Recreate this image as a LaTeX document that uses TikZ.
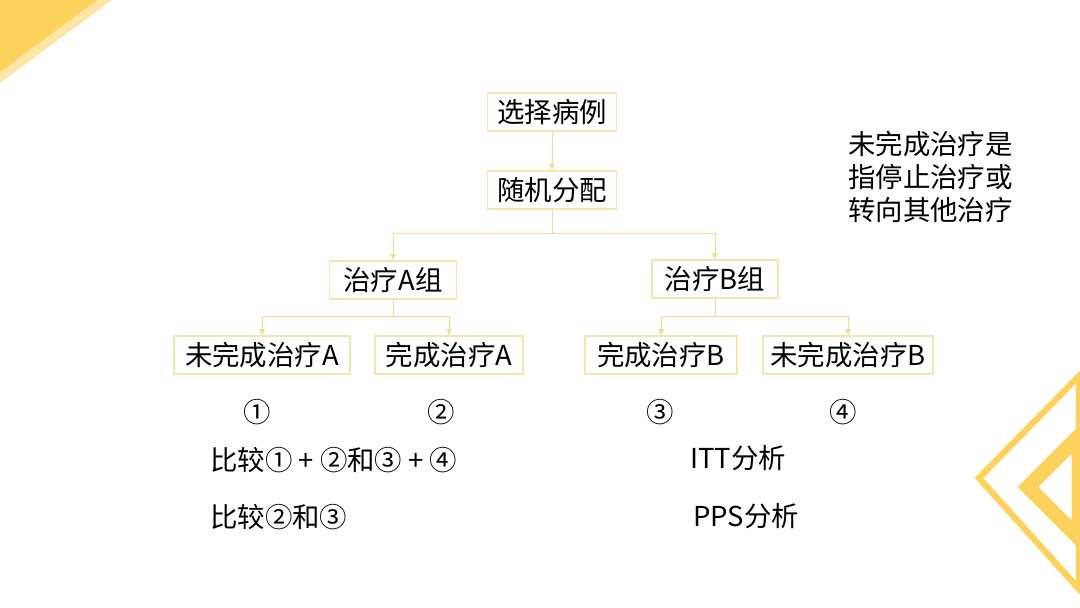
\documentclass[tikz,border=0pt]{standalone}
\usepackage{fontspec}
\setmainfont{Noto Sans CJK SC}
\usetikzlibrary{positioning,arrows.meta}
\definecolor{cornery}{HTML}{FDD25C}
\definecolor{cornerl}{HTML}{FCE6A6}
\definecolor{boxline}{HTML}{F6E4B0}
\definecolor{linkc}{HTML}{F3D98E}

\begin{document}
\begin{tikzpicture}[
  x=0.025cm, y=-0.025cm,
  font=\fontsize{19.5}{23.5}\selectfont,
  bx/.style={draw=boxline, line width=0.8pt, minimum height=0.95cm,
             inner sep=0pt, align=center},
  fl/.style={-{Latex[length=1.6mm,width=1.5mm]}, linkc, line width=0.6pt},
  ln/.style={linkc, line width=0.6pt},
  tx/.style={inner sep=0pt, anchor=west}
]
\useasboundingbox (0,0) rectangle (1080,607);
\fill[white] (0,0) rectangle (1080,607);

% corner decorations
\begin{scope}
\clip (0,0) rectangle (1080,607);
\fill[cornerl] (0,0) -- (112,0) -- (0,83) -- cycle;
\fill[cornery] (0,0) -- (97,0) -- (0,72) -- cycle;
\draw[cornery, line width=4.5pt, line join=miter] (1079,376) -- (979,478) -- (1079,589) -- cycle;
\draw[cornery, line width=10.5pt, line join=miter] (1079,436) -- (1028,487) -- (1079,538) -- cycle;
\end{scope}

% tree
\node[bx, minimum width=3.225cm] (sel) at (552,112) {选择病例};
\node[bx, minimum width=3.225cm] (rnd) at (552,190) {随机分配};
\node[bx, minimum width=3.175cm] (grpA) at (393,280) {治疗A组};
\node[bx, minimum width=3.15cm] (grpB) at (715,279) {治疗B组};
\node[bx, minimum width=4.4cm] (notA) at (262,355) {未完成治疗A};
\node[bx, minimum width=3.7cm] (doneA) at (449,355) {完成治疗A};
\node[bx, minimum width=3.8cm] (doneB) at (661,355) {完成治疗B};
\node[bx, minimum width=4.25cm] (notB) at (848,355) {未完成治疗B};

\coordinate (fk0) at (552,233);
\coordinate (fkA) at (393,316);
\coordinate (fkB) at (715,316);

\draw[fl] (sel) -- (rnd);
\draw[ln] (rnd.south) -- (fk0);
\draw[ln] (grpA.south) -- (fkA);
\draw[ln] (grpB.south) -- (fkB);
\foreach \a/\b in {fk0/grpA, fk0/grpB, fkA/notA, fkA/doneA, fkB/doneB, fkB/notB}
  \draw[fl] (\a) -| (\b.north);

% numbers and notes
\node[inner sep=0pt] (n1) at (257,412) {①};
\node[inner sep=0pt] (n2) at (441,412) {②};
\node[inner sep=0pt] (n3) at (660,412) {③};
\node[inner sep=0pt] (n4) at (843,412) {④};

\node[tx] (cmp1) at (210,460) {比较① + ②和③ + ④};
\node[tx] (cmp2) at (210,517) {比较②和③};
\node[tx] (itt) at (690,458) {ITT分析};
\node[tx] (pps) at (693,516) {PPS分析};

\node[tx, align=left] (note) at (848,177) {未完成治疗是\\指停止治疗或\\转向其他治疗};
\end{tikzpicture}
\end{document}
